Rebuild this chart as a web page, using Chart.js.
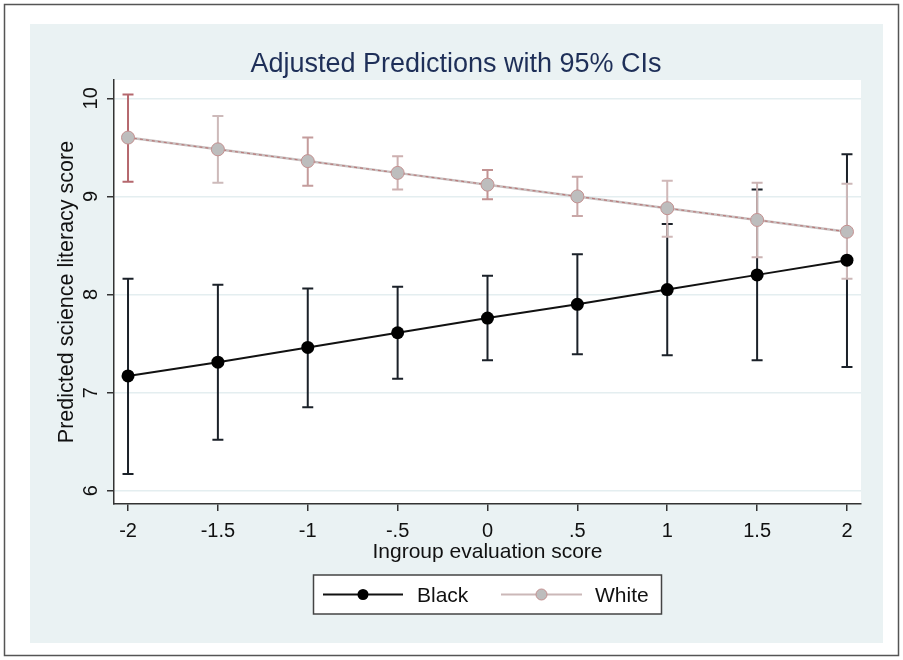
<!DOCTYPE html>
<html>
<head>
<meta charset="utf-8">
<script src="https://cdn.jsdelivr.net/npm/chart.js@4"></script>
<style>
  html, body { margin: 0; padding: 0; background: #ffffff; }
  #wrap { width: 903px; height: 660px; }
</style>
</head>
<body>
<div id="wrap"><canvas id="c" width="903" height="660"></canvas></div>
<script>
// ---- data ----
const xValues = [-2, -1.5, -1, -0.5, 0, 0.5, 1, 1.5, 2];
const xTickLabels = ['-2', '-1.5', '-1', '-.5', '0', '.5', '1', '1.5', '2'];
const yTickValues = [6, 7, 8, 9, 10];
const yTickLabels = ['6', '7', '8', '9', '10'];
const seriesNames = ['Black', 'White'];
const blackMean  = [7.17, 7.31, 7.46, 7.61, 7.76, 7.90, 8.05, 8.20, 8.35];
const blackLower = [6.17, 6.52, 6.85, 7.14, 7.33, 7.39, 7.38, 7.33, 7.26];
const blackUpper = [8.16, 8.10, 8.06, 8.08, 8.19, 8.41, 8.72, 9.07, 9.43];
const whiteMean  = [9.60, 9.48, 9.36, 9.24, 9.12, 9.00, 8.88, 8.76, 8.64];
const whiteLower = [9.15, 9.14, 9.11, 9.07, 8.97, 8.80, 8.59, 8.38, 8.16];
const whiteUpper = [10.04, 9.82, 9.60, 9.41, 9.27, 9.20, 9.16, 9.14, 9.13];
const titleText = 'Adjusted Predictions with 95% CIs';
const xTitle = 'Ingroup evaluation score';
const yTitle = 'Predicted science literacy score';

// ---- styles ----
const FONT = '"Liberation Sans", Arial, sans-serif';
const whiteCapColors = ['#b5686e', '#cdbaba', '#c49c9c', '#cdb0b0', '#c29292', '#c9a7a7', '#d0b8b8', '#cbb3b3', '#cdb8b8'];

const toPts = (ys) => xValues.map((x, i) => ({ x: x, y: ys[i] }));

const decor = {
  id: 'decor',
  beforeDraw(chart) {
    const ctx = chart.ctx;
    ctx.save();
    ctx.fillStyle = '#ffffff';
    ctx.fillRect(0, 0, 903, 660);
    ctx.strokeStyle = '#555555';
    ctx.lineWidth = 1.5;
    ctx.strokeRect(4.5, 4.5, 894, 651);
    ctx.fillStyle = '#eaf2f3';
    ctx.fillRect(30, 24, 853, 619);
    const a = chart.chartArea;
    ctx.fillStyle = '#ffffff';
    ctx.fillRect(a.left, a.top, a.right - a.left, a.bottom - a.top);
    ctx.restore();
  },
  beforeDatasetsDraw(chart) {
    const ctx = chart.ctx;
    const xs = chart.scales.x, ys = chart.scales.y;
    const drawBars = (lo, hi, colorFn) => {
      for (let i = 0; i < xValues.length; i++) {
        const px = xs.getPixelForValue(xValues[i]);
        const p1 = ys.getPixelForValue(lo[i]);
        const p2 = ys.getPixelForValue(hi[i]);
        ctx.strokeStyle = colorFn(i);
        ctx.lineWidth = 2;
        ctx.beginPath();
        ctx.moveTo(px, p1); ctx.lineTo(px, p2);
        ctx.moveTo(px - 5.5, p1); ctx.lineTo(px + 5.5, p1);
        ctx.moveTo(px - 5.5, p2); ctx.lineTo(px + 5.5, p2);
        ctx.stroke();
      }
    };
    ctx.save();
    drawBars(blackLower, blackUpper, () => '#1b2129');
    drawBars(whiteLower, whiteUpper, (i) => whiteCapColors[i]);
    ctx.restore();
  },
  afterDraw(chart) {
    const ctx = chart.ctx;
    const xs = chart.scales.x, ys = chart.scales.y;
    const a = chart.chartArea;
    ctx.save();
    // title
    ctx.fillStyle = '#1e2f58';
    ctx.font = '27px ' + FONT;
    ctx.textAlign = 'center';
    ctx.textBaseline = 'alphabetic';
    ctx.fillText(titleText, 456, 72);
    // x tick labels
    ctx.fillStyle = '#111111';
    ctx.font = '20px ' + FONT;
    xValues.forEach((v, i) => {
      ctx.fillText(xTickLabels[i], xs.getPixelForValue(v), 537);
    });
    // x title
    ctx.font = '21px ' + FONT;
    ctx.fillText(xTitle, (a.left + a.right) / 2, 558);
    // y tick labels (rotated)
    ctx.font = '20px ' + FONT;
    yTickValues.forEach((v, i) => {
      ctx.save();
      ctx.translate(97, ys.getPixelForValue(v));
      ctx.rotate(-Math.PI / 2);
      ctx.textAlign = 'center';
      ctx.fillText(yTickLabels[i], 0, 0);
      ctx.restore();
    });
    // y title
    ctx.save();
    ctx.translate(73, (a.top + a.bottom) / 2);
    ctx.rotate(-Math.PI / 2);
    ctx.font = '21.5px ' + FONT;
    ctx.textAlign = 'center';
    ctx.fillText(yTitle, 0, 0);
    ctx.restore();
    // legend
    ctx.fillStyle = '#ffffff';
    ctx.fillRect(313.5, 575, 348, 39);
    ctx.strokeStyle = '#444444';
    ctx.lineWidth = 1.5;
    ctx.strokeRect(313.5, 575, 348, 39);
    const ly = 594.5;
    ctx.strokeStyle = '#111111';
    ctx.lineWidth = 2;
    ctx.beginPath(); ctx.moveTo(323, ly); ctx.lineTo(403, ly); ctx.stroke();
    ctx.fillStyle = '#000000';
    ctx.beginPath(); ctx.arc(363, ly, 5.5, 0, Math.PI * 2); ctx.fill();
    ctx.strokeStyle = '#cbb8b8';
    ctx.beginPath(); ctx.moveTo(501, ly); ctx.lineTo(582, ly); ctx.stroke();
    ctx.fillStyle = '#bdbdbd';
    ctx.strokeStyle = '#c49090';
    ctx.lineWidth = 1;
    ctx.beginPath(); ctx.arc(541.5, ly, 5.5, 0, Math.PI * 2); ctx.fill(); ctx.stroke();
    ctx.fillStyle = '#111111';
    ctx.font = '21px ' + FONT;
    ctx.textAlign = 'left';
    ctx.fillText(seriesNames[0], 417, 602);
    ctx.fillText(seriesNames[1], 595, 602);
    ctx.restore();
  }
};

new Chart(document.getElementById('c'), {
  type: 'line',
  data: {
    datasets: [
      {
        label: seriesNames[1] + ' markers',
        data: toPts(whiteMean),
        showLine: false,
        pointRadius: 6.5,
        pointBackgroundColor: '#bdbdbd',
        pointBorderColor: '#c49090',
        pointBorderWidth: 1,
        order: 0
      },
      {
        label: seriesNames[1] + ' overlay',
        data: toPts(whiteMean),
        borderColor: '#b97b7b',
        borderWidth: 1.2,
        borderDash: [3, 3],
        pointRadius: 0,
        order: 1
      },
      {
        label: seriesNames[1],
        data: toPts(whiteMean),
        borderColor: '#c9c0c0',
        borderWidth: 2.5,
        pointRadius: 0,
        order: 2
      },
      {
        label: seriesNames[0],
        data: toPts(blackMean),
        borderColor: '#111111',
        borderWidth: 2,
        pointRadius: 6.5,
        pointBackgroundColor: '#000000',
        pointBorderColor: '#000000',
        pointBorderWidth: 0,
        order: 3
      }
    ]
  },
  options: {
    responsive: false,
    animation: false,
    events: [],
    clip: false,
    layout: { padding: { left: 0, right: 42, top: 80, bottom: 0 } },
    plugins: { legend: { display: false }, tooltip: { enabled: false }, title: { display: false } },
    scales: {
      x: {
        type: 'linear',
        min: -2.078, max: 2.078,
        afterFit(s) { s.height = 156; },
        afterBuildTicks(s) { s.ticks = xValues.map(v => ({ value: v })); },
        ticks: { display: false },
        grid: { drawOnChartArea: false, drawTicks: true, tickLength: 7, tickColor: '#333333', lineWidth: 1.5 },
        border: { display: true, color: '#333333', width: 1.5 }
      },
      y: {
        min: 5.864, max: 10.187,
        afterFit(s) { s.width = 114; },
        afterBuildTicks(s) { s.ticks = yTickValues.map(v => ({ value: v })); },
        ticks: { display: false },
        grid: { color: '#e4eef0', lineWidth: 1.5, drawTicks: true, tickLength: 7, tickColor: '#333333' },
        border: { display: true, color: '#333333', width: 1.5 }
      }
    }
  },
  plugins: [decor]
});
</script>
</body>
</html>
